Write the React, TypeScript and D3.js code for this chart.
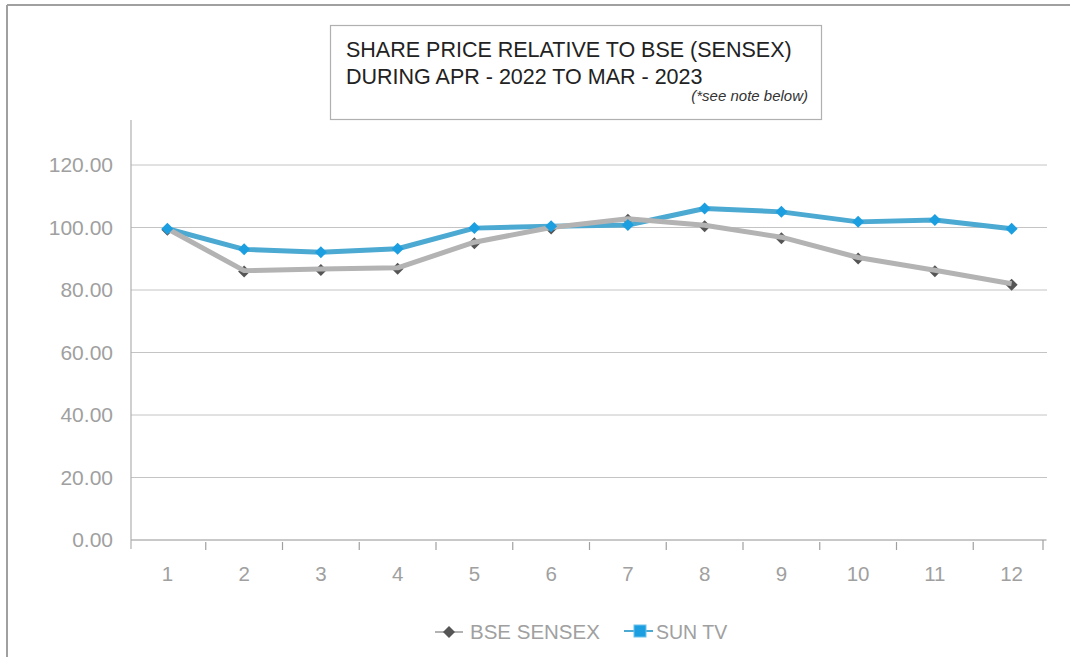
import React from "react";
import * as d3 from "d3";

const categories = ["1", "2", "3", "4", "5", "6", "7", "8", "9", "10", "11", "12"];
const bseSensex = [99.6, 86.2, 86.7, 87.1, 95.3, 100.0, 102.8, 100.7, 96.9, 90.4, 86.3, 82.0];
const sunTv = [99.6, 93.0, 92.1, 93.2, 99.8, 100.4, 100.8, 106.1, 105.0, 101.8, 102.4, 99.6];
const yTicks = [0, 20, 40, 60, 80, 100, 120];
const titleLines = ["SHARE PRICE RELATIVE TO BSE (SENSEX)", "DURING APR - 2022 TO MAR - 2023"];
const note = "(*see note below)";
const seriesNames = ["BSE SENSEX", "SUN TV"];

const W = 1070;
const H = 657;

export default function App() {
  const x = d3.scaleBand<string>().domain(categories).range([129, 1050]);
  const y = d3.scaleLinear().domain([0, 134.4]).range([540, 120]);
  const cx = (c: string) => (x(c) as number) + x.bandwidth() / 2;

  const line = d3
    .line<number>()
    .x((_, i) => cx(categories[i]))
    .y((v) => y(v));

  const diamond = d3.symbol().type(d3.symbolSquare).size(72)() as string;

  const font = "'Liberation Sans', Arial, sans-serif";
  const blueLine = "#4ba9d2";
  const blueMark = "#1c9fe0";
  const greyLine = "#b3b3b3";
  const greyMark = "#555555";
  const labelColor = "#a0a0a0";

  return (
    <div style={{ position: "absolute", left: 0, top: 0 }}>
      <svg width={W} height={H} style={{ display: "block", background: "#fff" }} fontFamily={font}>
        {/* outer frame */}
        <line x1={7} y1={5} x2={W} y2={5} stroke="#a0a0a0" strokeWidth={2} />
        <line x1={7} y1={5} x2={7} y2={H} stroke="#a0a0a0" strokeWidth={2} />

        {/* title box */}
        <rect x={330.5} y={25.5} width={491} height={94} fill="#fff" stroke="#b0b0b0" strokeWidth={1.2} />
        {titleLines.map((t, i) => (
          <text key={t} x={346} y={57 + i * 27} fontSize={21.5} fill="#222">
            {t}
          </text>
        ))}
        <text x={808} y={101} fontSize={15} fontStyle="italic" textAnchor="end" fill="#333">
          {note}
        </text>

        {/* gridlines */}
        {yTicks.map((t) => (
          <line key={"g" + t} x1={131} x2={1047} y1={y(t)} y2={y(t)} stroke="#c4c4c4" strokeWidth={1} />
        ))}
        {/* y labels */}
        {yTicks.map((t) => (
          <text
            key={"yl" + t}
            x={113}
            y={y(t)}
            dy="0.35em"
            textAnchor="end"
            fontSize={21}
            fill={labelColor}
          >
            {t.toFixed(2)}
          </text>
        ))}
        {/* y axis */}
        <line x1={131} x2={131} y1={120} y2={549} stroke="#b0b0b0" strokeWidth={1.2} />
        {/* x axis */}
        <line x1={131} x2={1046} y1={y(0)} y2={y(0)} stroke="#b0b0b0" strokeWidth={1.2} />
        {categories.slice(1).map((c) => (
          <line key={"t" + c} x1={x(c)} x2={x(c)} y1={y(0) + 2} y2={y(0) + 10} stroke="#a0a0a0" strokeWidth={1.2} />
        ))}
        <line x1={1043} x2={1043} y1={y(0)} y2={y(0) + 10} stroke="#a0a0a0" strokeWidth={1.2} />
        {categories.map((c) => (
          <text key={"xl" + c} x={cx(c)} y={581} textAnchor="middle" fontSize={20.5} fill={labelColor}>
            {c}
          </text>
        ))}

        {/* BSE markers */}
        {bseSensex.map((v, i) => (
          <path
            key={"bm" + i}
            d={diamond}
            transform={`translate(${cx(categories[i])},${y(v) + 1}) rotate(45)`}
            fill={greyMark}
          />
        ))}
        {/* lines */}
        <path d={line(sunTv) as string} fill="none" stroke={blueLine} strokeWidth={5} strokeLinejoin="round" />
        <path d={line(bseSensex) as string} fill="none" stroke={greyLine} strokeWidth={5} strokeLinejoin="round" />
        {/* SUN markers */}
        {sunTv.map((v, i) => (
          <path
            key={"sm" + i}
            d={diamond}
            transform={`translate(${cx(categories[i])},${y(v)}) rotate(45)`}
            fill={blueMark}
          />
        ))}

        {/* legend */}
        <g>
          <line x1={435} x2={463} y1={632} y2={632} stroke={greyLine} strokeWidth={2} />
          <path d={diamond} transform="translate(449,632) rotate(45)" fill={greyMark} />
          <text x={470} y={639} fontSize={20.5} fill={labelColor}>
            {seriesNames[0]}
          </text>
          <line x1={624} x2={653} y1={631} y2={631} stroke={blueLine} strokeWidth={2} />
          <rect x={634} y={625} width={12} height={12} fill={blueMark} stroke="#6fc3ec" strokeWidth={1} />
          <text x={656} y={639} fontSize={19.5} fill={labelColor}>
            {seriesNames[1]}
          </text>
        </g>
      </svg>
    </div>
  );
}
